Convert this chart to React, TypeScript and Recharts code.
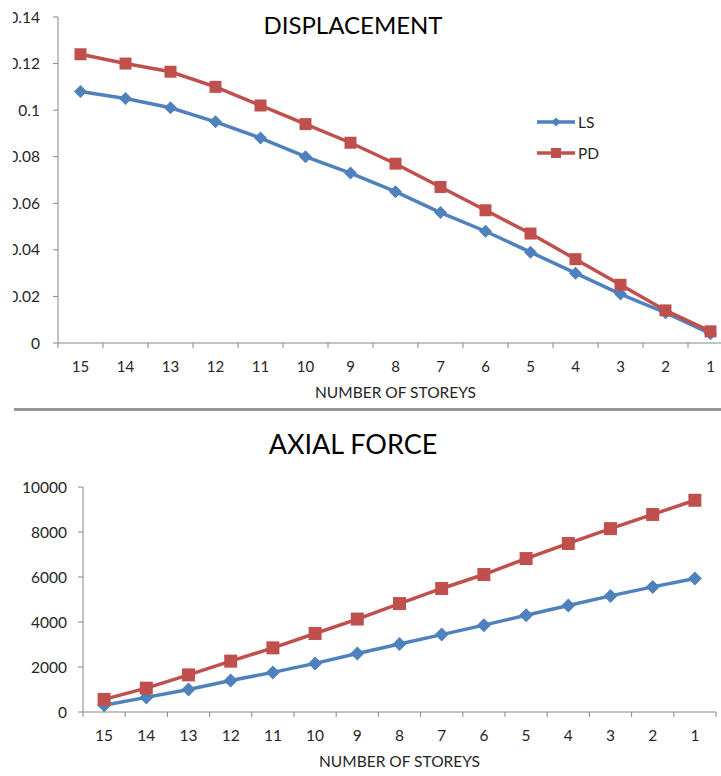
import { LineChart, Line, XAxis, YAxis, Legend } from "recharts";

// storeys run from the top floor down to the ground floor
const storeys = ["15", "14", "13", "12", "11", "10", "9", "8", "7", "6", "5", "4", "3", "2", "1"];

const displacementLS = [0.108, 0.105, 0.101, 0.095, 0.088, 0.080, 0.073, 0.065, 0.056, 0.048, 0.039, 0.030, 0.021, 0.013, 0.004];
const displacementPD = [0.124, 0.120, 0.1165, 0.110, 0.102, 0.094, 0.086, 0.077, 0.067, 0.057, 0.047, 0.036, 0.025, 0.014, 0.005];

const axialLS = [300, 650, 1000, 1400, 1760, 2160, 2600, 3020, 3440, 3860, 4300, 4730, 5160, 5560, 5930];
const axialPD = [560, 1060, 1650, 2260, 2850, 3490, 4130, 4820, 5490, 6110, 6820, 7490, 8150, 8780, 9410];

const displacementTicks = [0, 0.02, 0.04, 0.06, 0.08, 0.1, 0.12, 0.14];
const axialTicks = [0, 2000, 4000, 6000, 8000, 10000];

const BLUE = "#4F81BD";
const RED = "#C0504D";
const AXIS = "#868686";
const TEXT = "#262626";
const FONT = "Lato, 'Liberation Sans', sans-serif";

const displacementData = storeys.map((s, i) => ({
  storey: s,
  LS: displacementLS[i],
  PD: displacementPD[i],
}));

const axialData = storeys.map((s, i) => ({
  storey: s,
  LS: axialLS[i],
  PD: axialPD[i],
}));

const Diamond = ({ cx, cy, r, color }: any) => (
  <path d={`M${cx},${cy - r}L${cx + r},${cy}L${cx},${cy + r}L${cx - r},${cy}Z`} fill={color} />
);

const Square = ({ cx, cy, r, color }: any) => (
  <rect x={cx - r} y={cy - r} width={r * 2} height={r * 2} fill={color} />
);

const markerFor = (name: string) => (name === "LS" ? Diamond : Square);

// Excel-style category ticks: tick marks sit on the category boundaries,
// labels sit in the middle of each category
const makeStoreyTick = (half: number, fontSize: number) => (props: any) => {
  const { x, y, payload, index } = props;
  return (
    <g>
      <line x1={x - half} x2={x - half} y1={y - 5} y2={y} stroke={AXIS} />
      {index === storeys.length - 1 && (
        <line x1={x + half} x2={x + half} y1={y - 5} y2={y} stroke={AXIS} />
      )}
      <text x={x} y={y + 24} textAnchor="middle" fill={TEXT} fontSize={fontSize} fontFamily={FONT}>
        {payload.value}
      </text>
    </g>
  );
};

const renderLegend = ({ payload }: any) => (
  <div style={{ fontFamily: FONT }}>
    {(payload || []).map((entry: any) => {
      const Marker = markerFor(entry.value);
      return (
        <div key={entry.value} style={{ display: "flex", alignItems: "center", height: 31 }}>
          <svg width={40} height={14} style={{ display: "block" }}>
            <line x1={0} x2={38} y1={7} y2={7} stroke={entry.color} strokeWidth={3.5} />
            <Marker cx={19} cy={7} r={entry.value === "LS" ? 4.5 : 5} color={entry.color} />
          </svg>
          <span style={{ fontSize: 15.5, color: TEXT, marginLeft: 1 }}>{entry.value}</span>
        </div>
      );
    })}
  </div>
);

const series = (r: number) =>
  ["LS", "PD"].map((name) => {
    const color = name === "LS" ? BLUE : RED;
    const Marker = markerFor(name);
    const size = name === "LS" ? r : r - 0.5;
    return (
      <Line
        key={name}
        dataKey={name}
        name={name}
        stroke={color}
        strokeWidth={3.5}
        isAnimationActive={false}
        dot={(p: any) => <Marker key={`${name}-${p.index}`} cx={p.cx} cy={p.cy} r={size} color={color} />}
        activeDot={false}
      />
    );
  });

const titleStyle = (top: number, fontSize: number): React.CSSProperties => ({
  position: "absolute",
  left: 0,
  width: 706,
  top,
  textAlign: "center",
  fontFamily: FONT,
  fontSize,
  color: "#000",
  lineHeight: "30px",
});

export default function App() {
  return (
    <div
      style={{
        position: "absolute",
        left: 0,
        top: 0,
        width: 721,
        height: 776,
        background: "#fff",
        overflow: "hidden",
        fontFamily: FONT,
      }}
    >
      {/* displacement chart, cropped on both sides */}
      <div style={{ position: "absolute", left: 13, top: 0, width: 708, height: 404, overflow: "hidden" }}>
        <div style={{ position: "absolute", left: -21, top: 0 }}>
          <LineChart width={760} height={404} data={displacementData} margin={{ top: 17, right: 19, bottom: 0, left: 0 }}>
            <XAxis
              dataKey="storey"
              height={61}
              padding={{ left: 22.5, right: 22.5 }}
              stroke={AXIS}
              tickLine={false}
              tickSize={5}
              tickMargin={0}
              interval={0}
              tick={makeStoreyTick(22.5, 15)}
              label={{ value: "NUMBER OF STOREYS", position: "insideBottom", offset: 6, fill: TEXT, fontSize: 15.5, fontFamily: FONT }}
            />
            <YAxis
              width={66}
              domain={[0, 0.14]}
              ticks={displacementTicks}
              stroke={AXIS}
              tickSize={5}
              tickMargin={13}
              tick={{ fill: TEXT, fontSize: 15.5, fontFamily: FONT }}
            />
            <Legend
              layout="horizontal"
              verticalAlign="middle"
              align="center"
              content={renderLegend}
              wrapperStyle={{ left: 545, top: 106, width: 80, height: 62 }}
            />
            {series(6.5)}
          </LineChart>
        </div>
      </div>
      <div style={titleStyle(10, 24)}>DISPLACEMENT</div>

      <div style={{ position: "absolute", left: 14, top: 408, width: 707, height: 3, background: "#959595" }} />

      {/* axial force chart */}
      <div style={titleStyle(429, 27)}>AXIAL FORCE</div>
      <div style={{ position: "absolute", left: 0, top: 470 }}>
        <LineChart width={721} height={303} data={axialData} margin={{ top: 17, right: 5, bottom: 0, left: 0 }}>
          <XAxis
            dataKey="storey"
            height={61}
            padding={{ left: 21.1, right: 21.1 }}
            stroke={AXIS}
            tickLine={false}
            tickSize={5}
            tickMargin={0}
            interval={0}
            tick={makeStoreyTick(21.1, 15.5)}
            label={{ value: "NUMBER OF STOREYS", position: "insideBottom", offset: 6, fill: TEXT, fontSize: 15.5, fontFamily: FONT }}
          />
          <YAxis
            width={83}
            domain={[0, 10000]}
            ticks={axialTicks}
            stroke={AXIS}
            tickSize={5}
            tickMargin={11}
            tick={{ fill: TEXT, fontSize: 15.5, fontFamily: FONT }}
          />
          {series(7)}
        </LineChart>
      </div>
    </div>
  );
}
